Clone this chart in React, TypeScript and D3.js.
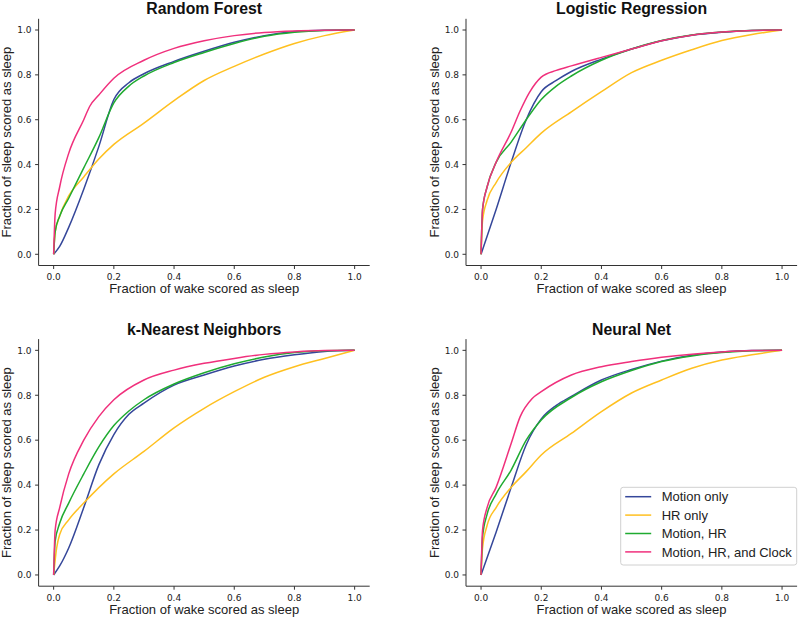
import React from "react";
import * as d3 from "d3";

type Pt = [number, number];

const seriesNames = ["Motion only", "HR only", "Motion, HR", "Motion, HR, and Clock"];
const seriesColors = ["#35479a", "#ffc020", "#1fab30", "#f0307c"];
const panelTitles = ["Random Forest", "Logistic Regression", "k-Nearest Neighbors", "Neural Net"];
const tickValues = [0, 0.2, 0.4, 0.6, 0.8, 1.0];

// Random Forest
const rfMotion: Pt[] = [[0,0],[0.02,0.035],[0.05,0.12],[0.1,0.29],[0.15,0.48],[0.2,0.69],[0.25,0.765],[0.3,0.805],[0.4,0.86],[0.5,0.905],[0.6,0.945],[0.7,0.975],[0.8,0.993],[0.9,0.999],[1,1]];
const rfHR: Pt[] = [[0,0],[0.005,0.1],[0.02,0.17],[0.05,0.26],[0.1,0.345],[0.15,0.425],[0.2,0.49],[0.3,0.585],[0.4,0.685],[0.5,0.775],[0.6,0.838],[0.7,0.893],[0.8,0.94],[0.9,0.975],[1,1]];
const rfMotionHR: Pt[] = [[0,0],[0.005,0.1],[0.02,0.17],[0.05,0.25],[0.1,0.385],[0.15,0.52],[0.2,0.675],[0.25,0.75],[0.3,0.795],[0.4,0.855],[0.5,0.9],[0.6,0.94],[0.7,0.972],[0.8,0.99],[0.9,0.998],[1,1]];
const rfAll: Pt[] = [[0,0],[0.005,0.18],[0.02,0.3],[0.05,0.45],[0.1,0.6],[0.12,0.66],[0.15,0.71],[0.2,0.785],[0.3,0.865],[0.4,0.918],[0.5,0.952],[0.6,0.975],[0.7,0.989],[0.8,0.996],[0.9,0.999],[1,1]];

// Logistic Regression
const lrMotion: Pt[] = [[0,0],[0.05,0.2],[0.1,0.41],[0.15,0.6],[0.2,0.725],[0.25,0.775],[0.3,0.815],[0.4,0.87],[0.5,0.915],[0.6,0.952],[0.7,0.977],[0.8,0.99],[0.9,0.998],[1,1]];
const lrHR: Pt[] = [[0,0],[0.005,0.15],[0.02,0.24],[0.05,0.32],[0.1,0.41],[0.15,0.475],[0.2,0.54],[0.3,0.635],[0.4,0.725],[0.5,0.81],[0.6,0.865],[0.7,0.912],[0.8,0.953],[0.9,0.98],[1,1]];
const lrMotionHR: Pt[] = [[0,0],[0.005,0.2],[0.02,0.3],[0.05,0.41],[0.1,0.5],[0.15,0.6],[0.2,0.69],[0.25,0.75],[0.3,0.795],[0.4,0.865],[0.5,0.915],[0.6,0.953],[0.7,0.978],[0.8,0.991],[0.9,0.998],[1,1]];
const lrAll: Pt[] = [[0,0],[0.005,0.2],[0.02,0.3],[0.05,0.41],[0.1,0.545],[0.13,0.64],[0.16,0.72],[0.2,0.79],[0.25,0.82],[0.3,0.84],[0.4,0.878],[0.5,0.915],[0.6,0.952],[0.7,0.977],[0.8,0.991],[0.9,0.998],[1,1]];

// k-Nearest Neighbors
const knnMotion: Pt[] = [[0,0],[0.02,0.04],[0.05,0.12],[0.1,0.3],[0.15,0.49],[0.2,0.625],[0.25,0.715],[0.3,0.765],[0.4,0.845],[0.5,0.89],[0.6,0.93],[0.7,0.96],[0.8,0.98],[0.9,0.995],[1,1]];
const knnHR: Pt[] = [[0,0],[0.01,0.12],[0.02,0.18],[0.05,0.245],[0.1,0.32],[0.2,0.45],[0.3,0.55],[0.4,0.655],[0.5,0.742],[0.6,0.816],[0.7,0.88],[0.8,0.927],[0.9,0.964],[1,1]];
const knnMotionHR: Pt[] = [[0,0],[0.005,0.15],[0.02,0.23],[0.05,0.32],[0.1,0.45],[0.15,0.57],[0.2,0.665],[0.25,0.73],[0.3,0.78],[0.4,0.85],[0.5,0.9],[0.6,0.94],[0.7,0.97],[0.8,0.99],[0.9,0.998],[1,1]];
const knnAll: Pt[] = [[0,0],[0.005,0.2],[0.02,0.3],[0.05,0.45],[0.1,0.6],[0.15,0.705],[0.2,0.78],[0.3,0.868],[0.4,0.912],[0.5,0.942],[0.6,0.964],[0.7,0.982],[0.8,0.993],[0.9,0.999],[1,1]];

// Neural Net
const nnMotion: Pt[] = [[0,0],[0.05,0.19],[0.1,0.39],[0.15,0.58],[0.2,0.695],[0.25,0.755],[0.3,0.795],[0.4,0.868],[0.5,0.915],[0.6,0.952],[0.7,0.978],[0.8,0.993],[0.9,0.999],[1,1]];
const nnHR: Pt[] = [[0,0],[0.005,0.12],[0.02,0.22],[0.05,0.3],[0.1,0.39],[0.15,0.46],[0.2,0.534],[0.3,0.63],[0.4,0.727],[0.5,0.81],[0.6,0.868],[0.7,0.92],[0.8,0.957],[0.9,0.98],[1,1]];
const nnMotionHR: Pt[] = [[0,0],[0.005,0.17],[0.02,0.27],[0.05,0.36],[0.1,0.467],[0.15,0.6],[0.2,0.69],[0.3,0.79],[0.4,0.86],[0.5,0.91],[0.6,0.95],[0.7,0.975],[0.8,0.99],[0.9,0.998],[1,1]];
const nnAll: Pt[] = [[0,0],[0.005,0.2],[0.02,0.3],[0.05,0.39],[0.1,0.585],[0.13,0.705],[0.17,0.786],[0.2,0.816],[0.3,0.89],[0.4,0.927],[0.5,0.95],[0.6,0.969],[0.7,0.983],[0.8,0.993],[0.9,0.999],[1,1]];

const panelData: Pt[][][] = [
  [rfMotion, rfHR, rfMotionHR, rfAll],
  [lrMotion, lrHR, lrMotionHR, lrAll],
  [knnMotion, knnHR, knnMotionHR, knnAll],
  [nnMotion, nnHR, nnMotionHR, nnAll],
];

const boxes = [
  { x0: 38.6, x1: 369.7, y0: 18.8, y1: 265.5 },
  { x0: 466, x1: 797.1, y0: 18.8, y1: 265.5 },
  { x0: 38.6, x1: 369.7, y0: 339.1, y1: 586.2 },
  { x0: 466, x1: 797.1, y0: 339.1, y1: 586.2 },
];

const sans = "'Liberation Sans', Arial, sans-serif";
const tickFont = "'DejaVu Sans', sans-serif";
const axisColor = "#333";

function Panel({ idx }: { idx: number }) {
  const b = boxes[idx];
  const x = d3.scaleLinear().domain([-0.05, 1.05]).range([b.x0, b.x1]);
  const y = d3.scaleLinear().domain([-0.05, 1.05]).range([b.y1, b.y0]);
  const line = d3
    .line<Pt>()
    .x((d) => x(d[0]))
    .y((d) => y(d[1]))
    .curve(d3.curveMonotoneX);
  const fmt = d3.format(".1f");
  const cx = (b.x0 + b.x1) / 2;
  const cy = (b.y0 + b.y1) / 2;
  return (
    <g>
      {panelData[idx].map((s, i) => (
        <path key={i} d={line(s) || ""} fill="none" stroke={seriesColors[i]} strokeWidth={1.5} />
      ))}
      <line x1={b.x0} x2={b.x0} y1={b.y0} y2={b.y1} stroke={axisColor} strokeWidth={1} />
      <line x1={b.x0} x2={b.x1} y1={b.y1} y2={b.y1} stroke={axisColor} strokeWidth={1} />
      {tickValues.map((t) => (
        <g key={"x" + t}>
          <line x1={x(t)} x2={x(t)} y1={b.y1} y2={b.y1 + 3.5} stroke={axisColor} />
          <text x={x(t)} y={b.y1 + 14.5} textAnchor="middle" fontFamily={tickFont} fontSize={9} fill="#222">
            {fmt(t)}
          </text>
        </g>
      ))}
      {tickValues.map((t) => (
        <g key={"y" + t}>
          <line x1={b.x0 - 3.5} x2={b.x0} y1={y(t)} y2={y(t)} stroke={axisColor} />
          <text x={b.x0 - 7} y={y(t) + 3.3} textAnchor="end" fontFamily={tickFont} fontSize={9} fill="#222">
            {fmt(t)}
          </text>
        </g>
      ))}
      <text x={cx} y={b.y0 - 4.6} textAnchor="middle" fontFamily={sans} fontWeight="bold" fontSize={15.8} fill="#111">
        {panelTitles[idx]}
      </text>
      <text x={cx} y={b.y1 + 27.5} textAnchor="middle" fontFamily={sans} fontSize={13} fill="#222">
        Fraction of wake scored as sleep
      </text>
      <text
        transform={`translate(${b.x0 - 27.5},${cy}) rotate(-90)`}
        textAnchor="middle"
        fontFamily={sans}
        fontSize={13}
        fill="#222"
      >
        Fraction of sleep scored as sleep
      </text>
    </g>
  );
}

function Legend() {
  const lx = 620.7;
  const ly = 487.3;
  const w = 176;
  const h = 77.7;
  return (
    <g>
      <rect x={lx} y={ly} width={w} height={h} rx={2.5} fill="white" fillOpacity={0.8} stroke="#d0d0d0" strokeWidth={1} />
      {seriesNames.map((n, i) => {
        const yy = ly + 9.4 + i * 18.4;
        return (
          <g key={n}>
            <line x1={lx + 4.5} x2={lx + 30.5} y1={yy} y2={yy} stroke={seriesColors[i]} strokeWidth={1.5} />
            <text x={lx + 41} y={yy + 4.6} fontFamily={sans} fontSize={13} fill="#222">
              {n}
            </text>
          </g>
        );
      })}
    </g>
  );
}

export default function App() {
  return (
    <svg width={800} height={619} style={{ position: "absolute", left: 0, top: 0, background: "white" }}>
      <rect width={800} height={619} fill="white" />
      {[0, 1, 2, 3].map((i) => (
        <Panel key={i} idx={i} />
      ))}
      <Legend />
    </svg>
  );
}
